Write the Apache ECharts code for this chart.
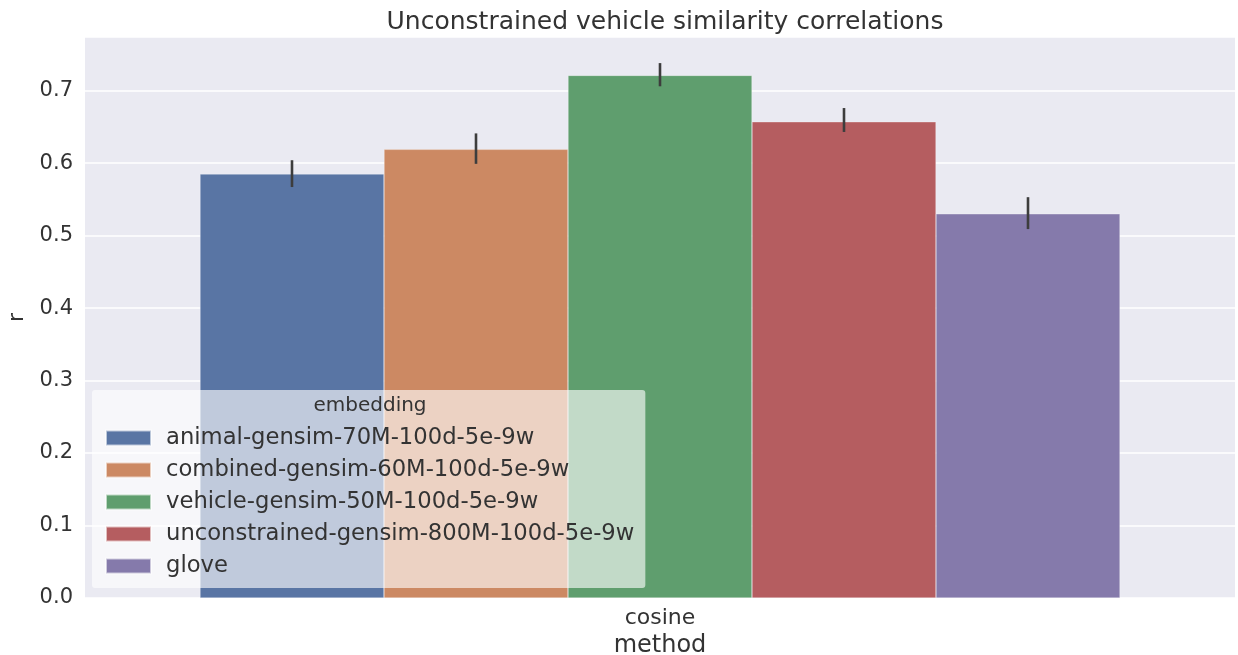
<!DOCTYPE html>
<html>
<head>
<meta charset="utf-8">
<script src="https://cdn.jsdelivr.net/npm/echarts@6/dist/echarts.min.js"></script>
<style>
html,body{margin:0;padding:0;background:#fff;}
#chart{width:1238px;height:655px;}
</style>
</head>
<body>
<div id="chart"></div>
<script>
var categories = ['cosine'];
var embeddings = [
  'animal-gensim-70M-100d-5e-9w',
  'combined-gensim-60M-100d-5e-9w',
  'vehicle-gensim-50M-100d-5e-9w',
  'unconstrained-gensim-800M-100d-5e-9w',
  'glove'
];
var means = [0.585, 0.619, 0.721, 0.657, 0.530];
var ciLow = [0.567, 0.599, 0.706, 0.643, 0.509];
var ciHigh = [0.604, 0.641, 0.738, 0.676, 0.553];
var yTicks = [0.0, 0.1, 0.2, 0.3, 0.4, 0.5, 0.6, 0.7];
var colors = ['#5975A4', '#CC8963', '#5F9E6E', '#B55D60', '#857AAB'];

var FONT = 'DejaVu Sans';
var nSeries = embeddings.length;

var series = embeddings.map(function (name, i) {
  return {
    name: name,
    type: 'bar',
    data: [means[i]],
    itemStyle: { color: colors[i], borderColor: 'rgba(255,255,255,0.6)', borderWidth: 0.5 },
    barGap: '0%',
    barCategoryGap: '20%',
    z: 2
  };
});

series.push({
  type: 'custom',
  name: 'ci',
  z: 3,
  data: embeddings.map(function (n, i) { return [0, ciLow[i], ciHigh[i], i]; }),
  encode: { x: 0, y: [1, 2] },
  renderItem: function (params, api) {
    var idx = api.value(3);
    var top = api.coord([api.value(0), api.value(2)]);
    var bot = api.coord([api.value(0), api.value(1)]);
    var band = api.size([1, 0])[0];
    var bw = band * 0.8 / nSeries;
    var x = top[0] - band * 0.4 + bw * (idx + 0.5);
    return {
      type: 'line',
      shape: { x1: x, y1: top[1], x2: x, y2: bot[1] },
      style: { stroke: '#3d3d3d', lineWidth: 2.6 }
    };
  },
  tooltip: { show: false }
});

var chart = echarts.init(document.getElementById('chart'), null, { renderer: 'canvas' });
chart.setOption({
  animation: false,
  backgroundColor: '#ffffff',
  textStyle: { fontFamily: FONT },
  title: {
    text: 'Unconstrained vehicle similarity correlations',
    left: 660,
    top: 5,
    textAlign: 'center',
    textStyle: { fontFamily: FONT, fontSize: 25, fontWeight: 'normal', color: '#333333' }
  },
  grid: {
    left: 85, right: 3, top: 37, bottom: 57,
    containLabel: false,
    outerBoundsMode: 'none',
    show: true, backgroundColor: '#EAEAF2', borderWidth: 0
  },
  legend: {
    data: embeddings,
    orient: 'vertical',
    left: 92,
    top: 390,
    itemWidth: 45,
    itemHeight: 15,
    itemGap: 8,
    padding: [36, 11, 10, 13],
    backgroundColor: 'rgba(255,255,255,0.62)',
    borderRadius: 3,
    icon: 'rect',
    textStyle: { fontFamily: FONT, fontSize: 22.7, color: '#333333', lineHeight: 24, padding: [0, 0, 0, 10] },
    z: 10
  },
  graphic: [{
    type: 'text',
    x: 370,
    y: 406,
    z: 100,
    style: { text: 'embedding', font: '20px "DejaVu Sans"', fill: '#333333', align: 'center', verticalAlign: 'middle' }
  }],
  xAxis: {
    type: 'category',
    data: categories,
    axisLine: { show: false },
    axisTick: { show: false },
    axisLabel: { fontFamily: FONT, fontSize: 22, color: '#333333', margin: 9 },
    name: 'method',
    nameLocation: 'middle',
    nameGap: 32,
    nameTextStyle: { fontFamily: FONT, fontSize: 24, color: '#333333' },
    splitLine: { show: false }
  },
  yAxis: {
    type: 'value',
    min: 0,
    max: 0.774,
    interval: 0.1,
    axisLine: { show: false },
    axisTick: { show: false },
    axisLabel: {
      fontFamily: FONT, fontSize: 21, color: '#333333', margin: 12,
      showMaxLabel: false,
      formatter: function (v) {
        for (var k = 0; k < yTicks.length; k++) {
          if (Math.abs(yTicks[k] - v) < 1e-6) return yTicks[k].toFixed(1);
        }
        return '';
      }
    },
    splitLine: { show: true, lineStyle: { color: '#ffffff', width: 1.5 } },
    name: 'r',
    nameLocation: 'middle',
    nameGap: 56,
    nameRotate: 90,
    nameTextStyle: { fontFamily: FONT, fontSize: 22, color: '#333333' }
  },
  series: series
});
</script>
</body>
</html>
